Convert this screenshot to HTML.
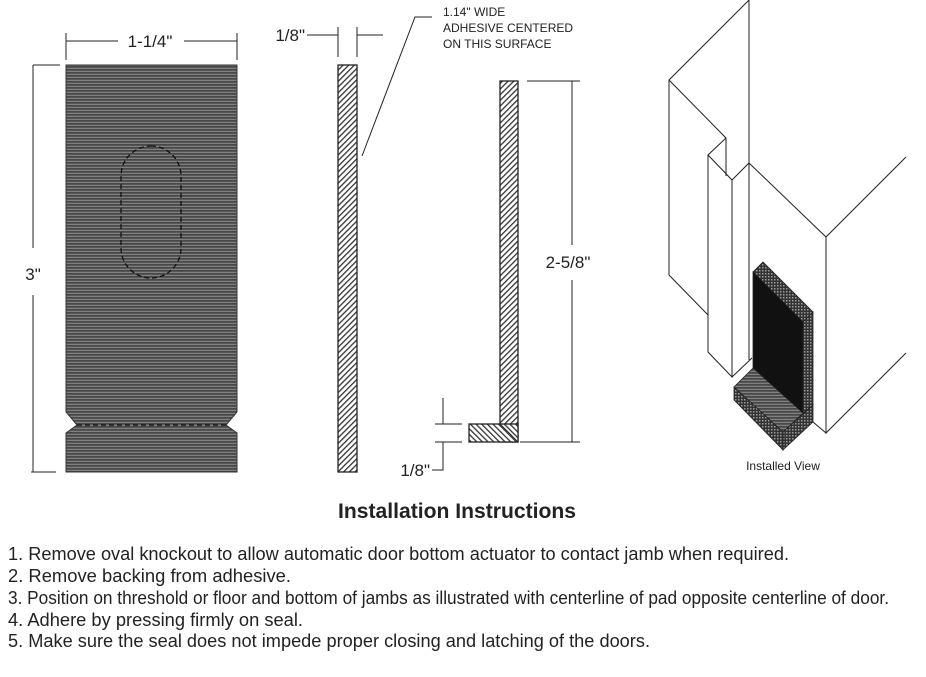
<!DOCTYPE html>
<html><head><meta charset="utf-8"><style>
html,body{margin:0;padding:0;background:#fff;}
svg{display:block;font-family:"Liberation Sans",sans-serif;}
</style></head><body>
<svg width="926" height="677" viewBox="0 0 926 677" xmlns="http://www.w3.org/2000/svg">
<defs>
<pattern id="stripes" width="4" height="3" patternUnits="userSpaceOnUse">
<rect width="4" height="3" fill="#484848"/><rect y="1.8" width="4" height="1" fill="#8e8e8e"/>
</pattern>
<pattern id="hatch" width="4" height="4" patternUnits="userSpaceOnUse" patternTransform="rotate(45)">
<rect width="4" height="4" fill="#fff"/><rect width="1.3" height="4" fill="#333"/>
</pattern>
<pattern id="hatch2" width="4" height="4" patternUnits="userSpaceOnUse" patternTransform="rotate(-45)">
<rect width="4" height="4" fill="#fff"/><rect width="1.3" height="4" fill="#333"/>
</pattern>
<pattern id="tex" width="3" height="3" patternUnits="userSpaceOnUse">
<rect width="3" height="3" fill="#333"/><rect width="1.5" height="1.5" fill="#999"/>
</pattern>
</defs>
<g stroke="#222" stroke-width="1" fill="none">
<path d="M66,65 H237 V412 L226,425 L237,433 V472 H66 V433 L77,425 L66,412 Z" fill="url(#stripes)" stroke="#333"/>
<line x1="77" y1="425" x2="226" y2="425" stroke="#111" stroke-dasharray="5,3" stroke-width="1.3"/>
<rect x="121" y="146" width="60" height="132" rx="30" ry="30" stroke="#111" stroke-dasharray="5,3" stroke-width="1.3"/>
<line x1="66" y1="33" x2="66" y2="60"/><line x1="237" y1="33" x2="237" y2="60"/>
<line x1="66" y1="41" x2="118" y2="41"/><line x1="184" y1="41" x2="237" y2="41"/>
<line x1="33" y1="65" x2="60" y2="65"/><line x1="31" y1="472" x2="56" y2="472"/>
<line x1="33" y1="65" x2="33" y2="248"/><line x1="33" y1="295" x2="33" y2="472"/>
<rect x="338" y="65" width="19" height="407" fill="url(#hatch)" stroke="#222" stroke-width="1.3"/>
<line x1="307" y1="35" x2="338" y2="35"/><line x1="338" y1="27" x2="338" y2="57"/>
<line x1="357" y1="27" x2="357" y2="57"/><line x1="357" y1="35" x2="383" y2="35"/>
<polyline points="362,156 415,17 432,17"/>
<rect x="500" y="81" width="18" height="361" fill="url(#hatch)" stroke="#222" stroke-width="1.3"/>
<rect x="469" y="424" width="49" height="18" fill="url(#hatch2)" stroke="#222" stroke-width="1.3"/>
<line x1="500" y1="424" x2="518" y2="442" stroke-width="1"/>
<line x1="527" y1="81" x2="580" y2="81"/><line x1="520" y1="442" x2="580" y2="442"/>
<line x1="572" y1="81" x2="572" y2="245"/><line x1="572" y1="280" x2="572" y2="442"/>
<line x1="435" y1="424" x2="462" y2="424"/><line x1="435" y1="442" x2="462" y2="442"/>
<line x1="443" y1="398" x2="443" y2="424"/><polyline points="443,442 443,470 432,470"/>
<polyline points="669,275 669,80 749,0 749,360"/>
<line x1="669" y1="275" x2="708" y2="315"/>
<polyline points="669,80 726,138 726,176"/>
<polyline points="726,138 708,155 708,352 732,377 732,180 708,155"/>
<polyline points="732,180 749,163 826,237 906,157"/>
<line x1="732" y1="377" x2="752" y2="358"/>
<polyline points="826,237 826,433 906,353"/>
<line x1="826" y1="433" x2="813" y2="422"/>
</g>
<g stroke="#222" stroke-width="0.8">
<polygon points="753,272 763,262 813,312 803,322" fill="url(#tex)"/>
<polygon points="803,322 813,312 813,405 803,413" fill="url(#tex)"/>
<polygon points="753,272 803,322 803,413 753,368" fill="#111"/>
<polygon points="734,387 753,368 803,413 783,432" fill="url(#stripes)"/>
<polygon points="783,432 813,405 813,422 783,450" fill="url(#tex)"/>
<polygon points="734,387 783,432 783,450 734,400" fill="url(#tex)"/>
</g>
<g fill="#222">
<text x="150" y="47" font-size="17" text-anchor="middle">1-1/4"</text>
<text x="33" y="280" font-size="17" text-anchor="middle">3"</text>
<text x="305" y="41" font-size="17" text-anchor="end">1/8"</text>
<text x="443" y="16" font-size="12">1.14" WIDE</text>
<text x="443" y="32" font-size="12">ADHESIVE CENTERED</text>
<text x="443" y="48" font-size="12">ON THIS SURFACE</text>
<text x="568" y="268" font-size="17" text-anchor="middle">2-5/8"</text>
<text x="430" y="476" font-size="17" text-anchor="end">1/8"</text>
<text x="783" y="470" font-size="12" text-anchor="middle">Installed View</text>
<text x="338" y="518" font-size="21" font-weight="bold" textLength="238" lengthAdjust="spacingAndGlyphs">Installation Instructions</text>
<text x="8" y="560" font-size="18" textLength="781" lengthAdjust="spacingAndGlyphs">1. Remove oval knockout to allow automatic door bottom actuator to contact jamb when required.</text>
<text x="8" y="582" font-size="18" textLength="283" lengthAdjust="spacingAndGlyphs">2. Remove backing from adhesive.</text>
<text x="8" y="604" font-size="18" textLength="881" lengthAdjust="spacingAndGlyphs">3. Position on threshold or floor and bottom of jambs as illustrated with centerline of pad opposite centerline of door.</text>
<text x="8" y="626" font-size="18" textLength="295" lengthAdjust="spacingAndGlyphs">4. Adhere by pressing firmly on seal.</text>
<text x="8" y="647" font-size="18" textLength="642" lengthAdjust="spacingAndGlyphs">5. Make sure the seal does not impede proper closing and latching of the doors.</text>
</g>
</svg>
</body></html>
